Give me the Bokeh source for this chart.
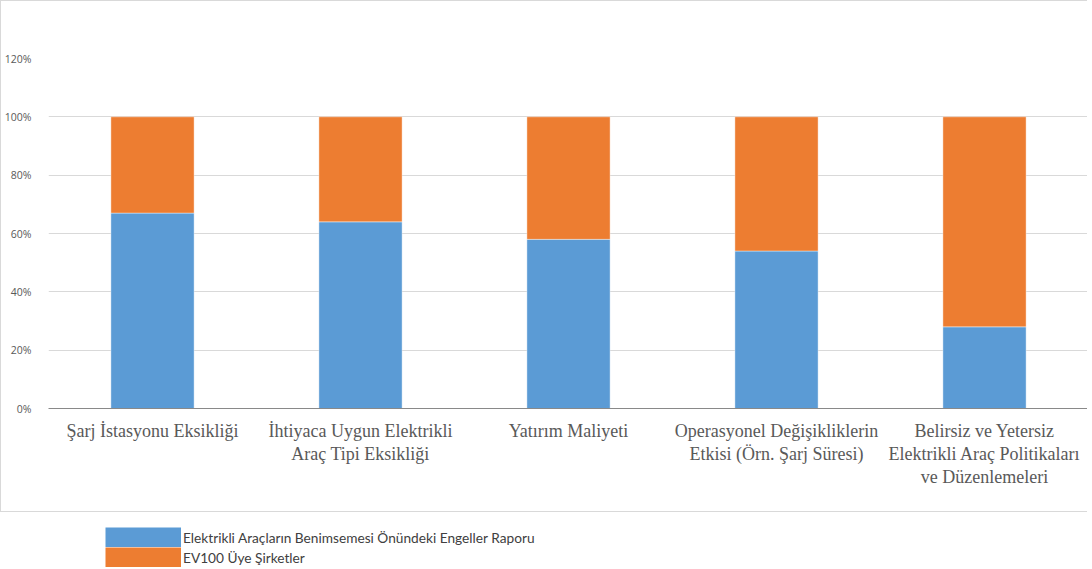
from bokeh.plotting import figure
from bokeh.models import (ColumnDataSource, NumeralTickFormatter, Legend, LegendItem,
                          FactorRange)
from bokeh.layouts import column
from bokeh.embed import file_html
from bokeh.resources import INLINE

categories = [
    "Şarj İstasyonu Eksikliği",
    "İhtiyaca Uygun Elektrikli\nAraç Tipi Eksikliği",
    "Yatırım Maliyeti",
    "Operasyonel Değişikliklerin\nEtkisi (Örn. Şarj Süresi)",
    "Belirsiz ve Yetersiz\nElektrikli Araç Politikaları\nve Düzenlemeleri",
]
series_names = [
    "Elektrikli Araçların Benimsemesi Önündeki Engeller Raporu",
    "EV100 Üye Şirketler",
]
rapor = [0.67, 0.64, 0.58, 0.54, 0.28]
ev100 = [0.33, 0.36, 0.42, 0.46, 0.72]
colors = ["#5B9BD5", "#ED7D31"]
y_ticks = [0, 0.2, 0.4, 0.6, 0.8, 1.0, 1.2]

source = ColumnDataSource(dict(cat=categories, rapor=rapor, ev100=ev100))

p = figure(
    x_range=FactorRange(factors=categories), y_range=(0, 1.2),
    width=1087, height=512, output_backend="svg", toolbar_location=None,
    min_border_left=42, min_border_right=0, min_border_top=57, min_border_bottom=105,
)
p.vbar_stack(["rapor", "ev100"], x="cat", width=0.4, color=colors, source=source,
             line_color="white", line_alpha=0.4, line_width=1)

p.outline_line_color = None
p.xgrid.grid_line_color = None
p.ygrid.grid_line_color = "#D9D9D9"
p.ygrid.grid_line_width = 1
p.yaxis.ticker = y_ticks
p.yaxis.formatter = NumeralTickFormatter(format="0%")
p.yaxis.axis_line_color = None
p.yaxis.major_tick_line_color = None
p.yaxis.minor_tick_line_color = None
p.yaxis.major_label_text_font = "Open Sans"
p.yaxis.major_label_text_font_size = "10.5px"
p.yaxis.major_label_text_color = "#595959"
p.yaxis.major_label_standoff = 11

p.xaxis.axis_line_color = "#898989"
p.xaxis.axis_line_width = 1
p.xaxis.major_tick_line_color = None
p.xaxis.minor_tick_line_color = None
p.xaxis.major_label_text_font = "Liberation Serif"
p.xaxis.major_label_text_font_size = "18px"
p.xaxis.major_label_text_line_height = 1.15
p.xaxis.major_label_text_color = "#595959"
p.xaxis.major_label_standoff = 6
p.xaxis.major_label_orientation = "horizontal"
p.styles = {"border-left": "1px solid #D9D9D9", "border-top": "1px solid #D9D9D9",
            "border-bottom": "1px solid #D9D9D9"}

# legend panel below the bordered chart
lg = figure(width=1087, height=55, output_backend="svg", toolbar_location=None,
            x_range=(0, 1), y_range=(0, 1), min_border=0,
            x_axis_location=None, y_axis_location=None)
lg.grid.visible = False
lg.outline_line_color = None
r1 = lg.line(x=[-10, -9], y=[-10, -10], line_color=colors[0], line_width=20, line_cap="butt")
r2 = lg.line(x=[-10, -9], y=[-10, -10], line_color=colors[1], line_width=20, line_cap="butt")
legend = Legend(items=[LegendItem(label=series_names[0], renderers=[r1]),
                       LegendItem(label=series_names[1], renderers=[r2])],
                location=(58, 0), orientation="vertical",
                glyph_width=76, glyph_height=20, spacing=0, padding=0, margin=0,
                label_standoff=2, label_height=20,
                label_text_font="Lato", label_text_font_size="13.7px",
                label_text_color="#404040",
                border_line_color=None, background_fill_alpha=0)
lg.add_layout(legend, "center")

layout = column(p, lg, spacing=0)
open("out.html", "w").write(file_html(layout, INLINE))
